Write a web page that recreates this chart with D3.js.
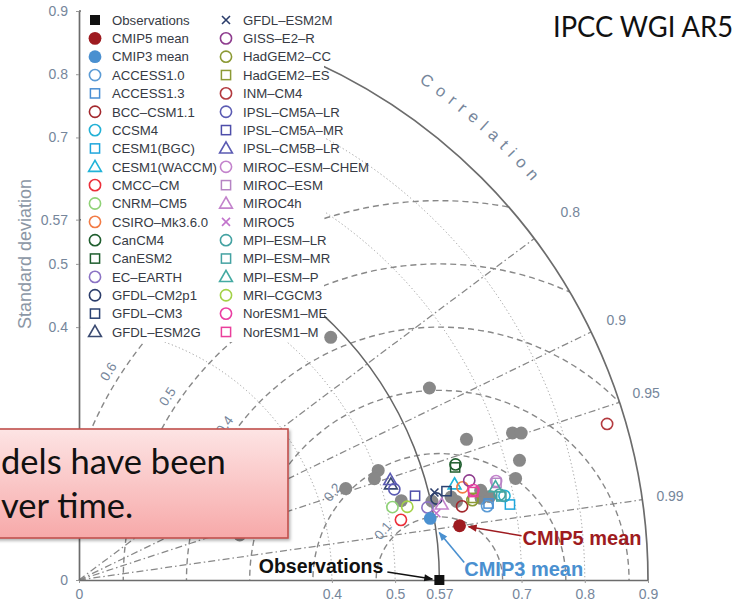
<!DOCTYPE html>
<html>
<head>
<meta charset="utf-8">
<script src="https://cdn.jsdelivr.net/npm/d3@7"></script>
<style>
  html, body { margin: 0; padding: 0; background: #fff; }
  svg { display: block; }
</style>
</head>
<body>
<svg id="chart" width="749" height="613"></svg>
<script>
// ---- CMIP5 models: standard deviation and correlation with observations ----
const modelNames = ["ACCESS1.0", "ACCESS1.3", "BCC-CSM1.1", "CCSM4", "CESM1(BGC)", "CESM1(WACCM)",
  "CMCC-CM", "CNRM-CM5", "CSIRO-Mk3.6.0", "CanCM4", "CanESM2", "EC-EARTH", "GFDL-CM2p1",
  "GFDL-CM3", "GFDL-ESM2G", "GFDL-ESM2M", "GISS-E2-R", "HadGEM2-CC", "HadGEM2-ES", "INM-CM4",
  "IPSL-CM5A-LR", "IPSL-CM5A-MR", "IPSL-CM5B-LR", "MIROC-ESM-CHEM", "MIROC-ESM", "MIROC4h",
  "MIROC5", "MPI-ESM-LR", "MPI-ESM-MR", "MPI-ESM-P", "MRI-CGCM3", "NorESM1-ME", "NorESM1-M"];
const modelStd = [0.656, 0.659, 0.617, 0.686, 0.692, 0.613,
  0.518, 0.509, 0.624, 0.623, 0.621, 0.563, 0.580,
  0.598, 0.516, 0.579, 0.637, 0.635, 0.637, 0.871,
  0.519, 0.548, 0.517, 0.678, 0.678, 0.586,
  0.575, 0.679, 0.681, 0.675, 0.532, 0.640, 0.639];
const modelCorr = [0.984, 0.983, 0.982, 0.981, 0.985, 0.969,
  0.983, 0.974, 0.972, 0.956, 0.958, 0.979, 0.975,
  0.972, 0.956, 0.971, 0.969, 0.980, 0.979, 0.959,
  0.961, 0.970, 0.952, 0.973, 0.974, 0.979,
  0.983, 0.980, 0.981, 0.976, 0.976, 0.975, 0.976];

// marker style per model (kept apart from the values)
const modelShapes = ["circle", "square", "circle", "circle", "square", "triangle",
  "circle", "circle", "circle", "circle", "square", "circle", "circle",
  "square", "triangle", "cross", "circle", "circle", "square", "circle",
  "circle", "square", "triangle", "circle", "square", "triangle",
  "cross", "circle", "square", "triangle", "circle", "circle", "square"];
const modelColors = ["#5b9bd5", "#4a8fd4", "#a3282d", "#22b1d6", "#1ea6dc", "#21b3d8",
  "#ec2f3a", "#8fd276", "#f27b45", "#1f5e2e", "#1f5e2e", "#8b73c4", "#2b3d6b",
  "#2b4272", "#3b4b72", "#2b3d6b", "#8e3c8e", "#8c9a35", "#8c9a35", "#b33a3f",
  "#5b5bb3", "#4e4eaa", "#5b5bb3", "#c383cc", "#b684c4", "#c383cc",
  "#c274cc", "#44a2a2", "#44a2a2", "#44aaa2", "#a3d247", "#ea3fa2", "#ea3f9c"];

// ---- CMIP3 models (grey dots) ----
const cmip3Std = [0.553, 0.632, 0.652, 0.724, 0.737, 0.722, 0.709, 0.504, 0.494,
  0.446, 0.525, 0.572, 0.610, 0.649, 0.663, 0.264, 0.651, 0.603];
const cmip3Corr = [0.720, 0.877, 0.940, 0.947, 0.949, 0.965, 0.974, 0.939, 0.946,
  0.946, 0.971, 0.976, 0.979, 0.980, 0.980, 0.963, 0.976, 0.976];

// ---- ensemble means and observations ----
const meanNames = ["CMIP5 mean", "CMIP3 mean"];
const meanStd = [0.608, 0.564];
const meanCorr = [0.990, 0.985];
const obsStd = 0.57;

// ---- grid definitions ----
const stdTicks = [0, 0.4, 0.5, 0.57, 0.7, 0.8, 0.9];
const stdArcs = [0.4, 0.5, 0.7, 0.8];
const corrTicks = [0.8, 0.9, 0.95, 0.99];
const corrLabelRadius = [614, 597, 597, 597];   // px from the origin
const rmsTicks = [0.1, 0.2, 0.3, 0.4, 0.5, 0.6];

// ---------------------------------------------------------------
const svg = d3.select("#chart");
const ox = 79, oy = 580, R = 569, maxSd = 0.9;
const rS = d3.scaleLinear().domain([0, maxSd]).range([0, R]);
const xS = d3.scaleLinear().domain([0, maxSd]).range([ox, ox + R]);
const yS = d3.scaleLinear().domain([0, maxSd]).range([oy, oy - R]);
const pos = (sd, c) => { const t = Math.acos(c); return [xS(sd * Math.cos(t)), yS(sd * Math.sin(t))]; };

const axisFont = "'Liberation Sans', Arial, sans-serif";
const labelColor = "#76869b";
const gridColor = "#888";

const defs = svg.append("defs");
// quarter disc used to clip the RMS circles
defs.append("clipPath").attr("id", "quarter").append("path")
  .attr("d", (() => { const p = d3.path(); p.moveTo(ox, oy); p.lineTo(ox, oy - R);
    p.arc(ox, oy, R, -Math.PI / 2, 0); p.closePath(); return p.toString(); })());

const grid = svg.append("g");

// standard-deviation arcs (dotted)
const quarterArc = rho => { const p = d3.path(); p.moveTo(ox, oy - rho); p.arc(ox, oy, rho, -Math.PI / 2, 0); return p.toString(); };
grid.selectAll(".sdarc").data(stdArcs).join("path")
  .attr("d", d => quarterArc(rS(d)))
  .attr("fill", "none").attr("stroke", "#999").attr("stroke-width", 1)
  .attr("stroke-dasharray", "1.2,2.6");

// RMS difference circles centred on the observations (dashed)
const cx0 = xS(obsStd);
grid.append("g").attr("clip-path", "url(#quarter)")
  .selectAll("circle").data(rmsTicks).join("circle")
  .attr("cx", cx0).attr("cy", oy).attr("r", d => rS(d))
  .attr("fill", "none").attr("stroke", gridColor).attr("stroke-width", 1.4)
  .attr("stroke-dasharray", "6,4");

// correlation rays (dash-dot)
grid.selectAll(".ray").data(corrTicks).join("line")
  .attr("x1", ox).attr("y1", oy)
  .attr("x2", d => pos(maxSd, d)[0]).attr("y2", d => pos(maxSd, d)[1])
  .attr("stroke", gridColor).attr("stroke-width", 1.25)
  .attr("stroke-dasharray", "7,3,1.5,3");

// observed standard deviation arc (solid)
grid.append("path").attr("d", quarterArc(rS(obsStd)))
  .attr("fill", "none").attr("stroke", "#666").attr("stroke-width", 1.5);

// outer arc
grid.append("path").attr("d", quarterArc(R))
  .attr("fill", "none").attr("stroke", "#6c6c6c").attr("stroke-width", 1.7);

// axes
const styleAxis = g => {
  g.select(".domain").attr("stroke", "#6c6c6c").attr("stroke-width", 1.7);
  g.selectAll(".tick line").attr("stroke", "#999");
  g.selectAll(".tick text").attr("fill", labelColor).attr("font-size", 14).attr("font-family", axisFont);
};
const fmt = d => d === 0 ? "0" : String(d);
svg.append("g").attr("transform", `translate(0,${oy})`)
  .call(d3.axisBottom(xS).tickValues(stdTicks).tickFormat(fmt).tickSize(3).tickSizeOuter(0).tickPadding(6))
  .call(styleAxis);
svg.append("g").attr("transform", `translate(${ox},0)`)
  .call(d3.axisLeft(yS).tickValues(stdTicks).tickFormat(fmt).tickSize(3).tickSizeOuter(0).tickPadding(8))
  .call(styleAxis);

// y axis title
svg.append("text").attr("transform", "translate(31,254) rotate(-90)")
  .attr("text-anchor", "middle").attr("font-family", axisFont).attr("font-size", 18)
  .attr("fill", "#8c97a5").text("Standard deviation");

// correlation labels
svg.selectAll(".clab").data(corrTicks).join("text")
  .attr("x", (d, i) => ox + corrLabelRadius[i] * d)
  .attr("y", (d, i) => oy - corrLabelRadius[i] * Math.sqrt(1 - d * d))
  .attr("dy", "0.35em").attr("text-anchor", "middle")
  .attr("font-family", axisFont).attr("font-size", 14).attr("fill", labelColor)
  .text(d => String(d));

// "Correlation" along an arc
const cR = 603, a0 = 68.2 * Math.PI / 180, a1 = 28.2 * Math.PI / 180;
defs.append("path").attr("id", "corrPath")
  .attr("d", `M${ox + cR * Math.cos(a0)},${oy - cR * Math.sin(a0)} A${cR},${cR} 0 0 1 ${ox + cR * Math.cos(a1)},${oy - cR * Math.sin(a1)}`);
svg.append("text").attr("font-family", axisFont).attr("font-size", 16.5)
  .attr("letter-spacing", 7).attr("fill", labelColor)
  .append("textPath").attr("href", "#corrPath").attr("startOffset", "50%")
  .attr("text-anchor", "middle").text("Correlation");

// RMS labels, placed just outside each circle, tangent to it
svg.selectAll(".rlab").data(rmsTicks).join("text")
  .attr("transform", d => {
    const ang = (137 + 18 * d) * Math.PI / 180, rr = rS(d) + 12;
    const x = cx0 + rr * Math.cos(ang), y = oy - rr * Math.sin(ang);
    return `translate(${x},${y}) rotate(${90 - ang * 180 / Math.PI})`;
  })
  .attr("text-anchor", "middle").attr("dy", "0.35em")
  .attr("font-family", axisFont).attr("font-size", 13.5).attr("fill", labelColor)
  .text(d => String(d));

// ---- legend ----
const legend = svg.append("g");
legend.append("rect").attr("x", ox + 2).attr("y", 9).attr("width", 243).attr("height", 333).attr("fill", "#fff");

function drawMarker(g, shape, color, x, y) {
  if (shape === "circle") {
    g.append("circle").attr("cx", x).attr("cy", y).attr("r", 5.6)
      .attr("fill", "none").attr("stroke", color).attr("stroke-width", 1.6);
  } else if (shape === "square") {
    g.append("rect").attr("x", x - 4.6).attr("y", y - 4.6).attr("width", 9.2).attr("height", 9.2)
      .attr("fill", "none").attr("stroke", color).attr("stroke-width", 1.5);
  } else if (shape === "triangle") {
    g.append("path").attr("d", `M${x},${y - 6.5}L${x + 6.4},${y + 4.6}L${x - 6.4},${y + 4.6}Z`)
      .attr("fill", "none").attr("stroke", color).attr("stroke-width", 1.6);
  } else if (shape === "cross") {
    g.append("path").attr("d", `M${x - 4},${y - 4}L${x + 4},${y + 4}M${x - 4},${y + 4}L${x + 4},${y - 4}`)
      .attr("stroke", color).attr("stroke-width", 1.6);
  } else if (shape === "dot") {
    g.append("circle").attr("cx", x).attr("cy", y).attr("r", 6.4).attr("fill", color);
  } else if (shape === "obs") {
    g.append("rect").attr("x", x - 5).attr("y", y - 5).attr("width", 10).attr("height", 10).attr("fill", color);
  }
}

const meanColors = ["#9e1b20", "#4a90d0"];
const legendItems = [{ name: "Observations", shape: "obs", color: "#111" }]
  .concat(meanNames.map((n, i) => ({ name: n, shape: "dot", color: meanColors[i] })))
  .concat(modelNames.map((n, i) => ({ name: n, shape: modelShapes[i], color: modelColors[i] })));
const perCol = 18, rowStep = 18.35, row0 = 20;
legendItems.forEach((it, i) => {
  const col = Math.floor(i / perCol), row = i % perCol;
  const mx = col === 0 ? 95 : 226, tx = col === 0 ? 112 : 243, y = row0 + row * rowStep;
  drawMarker(legend, it.shape, it.color, mx, y);
  legend.append("text").attr("x", tx).attr("y", y).attr("dy", "0.36em")
    .attr("font-family", axisFont).attr("font-size", 13.2).attr("fill", "#363a44")
    .text(it.name.replace(/-/g, "\u2013"));
});

// ---- data points ----
const pts = svg.append("g");
cmip3Std.forEach((s, i) => {
  const [x, y] = pos(s, cmip3Corr[i]);
  pts.append("circle").attr("cx", x).attr("cy", y).attr("r", 6.5).attr("fill", "#888");
});
modelStd.forEach((s, i) => {
  const [x, y] = pos(s, modelCorr[i]);
  drawMarker(pts, modelShapes[i], modelColors[i], x, y);
});
meanStd.forEach((s, i) => {
  const [x, y] = pos(s, meanCorr[i]);
  drawMarker(pts, "dot", meanColors[i], x, y);
});
const [obsX, obsY] = pos(obsStd, 1);
drawMarker(pts, "obs", "#111", obsX, obsY);

// ---- annotations with arrows ----
function arrowHead(id, color) {
  defs.append("marker").attr("id", id).attr("viewBox", "0 0 10 10").attr("refX", 9).attr("refY", 5)
    .attr("markerWidth", 10).attr("markerHeight", 9).attr("markerUnits", "userSpaceOnUse").attr("orient", "auto")
    .append("path").attr("d", "M0,1L10,5L0,9Z").attr("fill", color);
}
arrowHead("ahObs", "#111"); arrowHead("ah5", meanColors[0]); arrowHead("ah3", meanColors[1]);
const ann = svg.append("g").attr("font-family", axisFont).attr("font-weight", "bold");

ann.append("line").attr("x1", obsX - 52).attr("y1", obsY - 8).attr("x2", obsX - 7).attr("y2", obsY - 1)
  .attr("stroke", "#111").attr("stroke-width", 1.3).attr("marker-end", "url(#ahObs)");
ann.append("text").attr("x", obsX - 56).attr("y", obsY - 7).attr("text-anchor", "end")
  .attr("font-size", 19.5).attr("fill", "#111").text("Observations");

const [m5x, m5y] = pos(meanStd[0], meanCorr[0]);
ann.append("line").attr("x1", m5x + 62).attr("y1", m5y + 10).attr("x2", m5x + 9).attr("y2", m5y + 1)
  .attr("stroke", meanColors[0]).attr("stroke-width", 1.4).attr("marker-end", "url(#ah5)");
ann.append("text").attr("x", m5x + 63).attr("y", m5y + 19)
  .attr("font-size", 20).attr("fill", meanColors[0]).text(meanNames[0]);

const [m3x, m3y] = pos(meanStd[1], meanCorr[1]);
ann.append("line").attr("x1", m3x + 34).attr("y1", m3y + 44).attr("x2", m3x + 9).attr("y2", m3y + 14)
  .attr("stroke", meanColors[1]).attr("stroke-width", 1.6).attr("marker-end", "url(#ah3)");
ann.append("text").attr("x", m3x + 34).attr("y", m3y + 58)
  .attr("font-size", 20).attr("fill", meanColors[1]).text(meanNames[1]);

// ---- title ----
svg.append("text").attr("x", 733).attr("y", 37).attr("text-anchor", "end")
  .attr("font-family", "Lato, 'Open Sans', sans-serif").attr("font-size", 28)
  .attr("textLength", 180).attr("lengthAdjust", "spacingAndGlyphs")
  .attr("fill", "#111").text("IPCC WGI AR5");

// ---- callout box ----
const grad = defs.append("linearGradient").attr("id", "boxGrad").attr("x1", 0).attr("y1", 0).attr("x2", 0).attr("y2", 1);
grad.append("stop").attr("offset", "0%").attr("stop-color", "#fde4e4");
grad.append("stop").attr("offset", "100%").attr("stop-color", "#f7a9a9");
const shadow = defs.append("filter").attr("id", "shadow").attr("x", "-10%").attr("y", "-10%").attr("width", "130%").attr("height", "140%");
shadow.append("feDropShadow").attr("dx", 1.5).attr("dy", 2).attr("stdDeviation", 1.5).attr("flood-color", "#000").attr("flood-opacity", 0.3);
const box = svg.append("g");
box.append("rect").attr("x", -6).attr("y", 429).attr("width", 294).attr("height", 109)
  .attr("fill", "url(#boxGrad)").attr("stroke", "#c0504d").attr("stroke-width", 1.6)
  .attr("filter", "url(#shadow)");
box.append("text").attr("x", 1).attr("y", 474).attr("font-family", "Lato, 'Open Sans', sans-serif")
  .attr("font-size", 34.5).attr("fill", "#111").text("dels have been");
box.append("text").attr("x", 1).attr("y", 518).attr("font-family", "Lato, 'Open Sans', sans-serif")
  .attr("font-size", 34.5).attr("fill", "#111").text("ver time.");
</script>
</body>
</html>
